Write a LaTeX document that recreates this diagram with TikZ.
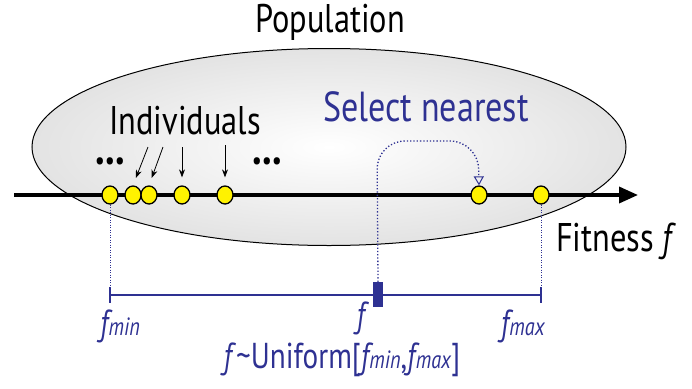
\documentclass[tikz,border=0pt]{standalone}
\usepackage{fontspec}
\setmainfont{PT Sans}[FakeStretch=0.81]
\usetikzlibrary{arrows.meta,shapes.geometric,positioning}
\definecolor{navy}{RGB}{46,49,146}
\tikzset{
  indiv/.style={ellipse,draw=black,line width=1.3pt,fill=yellow,minimum width=16pt,minimum height=18pt,inner sep=0pt},
  bluedot/.style={navy,dotted,line width=0.8pt},
  ptr/.style={-{Stealth[length=8pt,width=6pt]},line width=0.8pt,black,shorten >=8pt},
  lbl/.style={inner sep=0pt,font=\fontsize{40}{42}\selectfont},
  dots/.style={inner sep=0pt,anchor=base,text height=6pt,text depth=0pt,font=\fontsize{48}{50}\selectfont\bfseries},
  blbl/.style={inner sep=0pt,text=navy,font=\fontsize{36}{38}\selectfont}
}
\newcommand{\subtxt}[1]{\kern0.5pt{\fontsize{25}{27}\selectfont #1}}
\begin{document}
\begin{tikzpicture}[x=1pt,y=-1pt]
\useasboundingbox (0,0) rectangle (692,388);
% population ellipse
\node[ellipse,draw=black,line width=1pt,minimum width=594pt,minimum height=197pt,inner color=white,outer color=gray!22] (pop) at (329,147) {};
\node[lbl] (poptxt) at (330,22) {Population};
% axis
\coordinate (axL) at (14,195);
\coordinate (axR) at (638,195);
\draw[line width=3.5pt,-{Triangle[length=19pt,width=16pt]}] (axL) -- (axR);
\node[lbl,anchor=west] (fit) at (556,241) {Fitness \textit{f}};
% individuals
\node[indiv] (i1) at (110,195) {};
\node[indiv] (i2) at (133,195) {};
\node[indiv] (i3) at (149,195) {};
\node[indiv] (i4) at (182,195) {};
\node[indiv] (i5) at (225,195) {};
\node[indiv] (i6) at (479,195) {};
\node[indiv] (i7) at (541,195) {};
\node[lbl] (indtxt) at (185,121) {Individuals};
\node[dots] (dl) at (110,164) {...};
\node[dots] (dr) at (267,164) {...};
\coordinate (a1) at (148,147);
\coordinate (a2) at (163,147);
\coordinate (a3) at (182,147);
\coordinate (a4) at (225,145);
\draw[ptr] (a1) -- (i2.north);
\draw[ptr] (a2) -- (i3.north);
\draw[ptr] (a3) -- (i4.north);
\draw[ptr] (a4) -- (i5.north);
% interval
\coordinate (mn) at (110,295);
\coordinate (mx) at (541,295);
\draw[navy,line width=1.3pt] (mn) -- (mx);
\draw[navy,line width=1.3pt] (110,287) -- (110,303);
\draw[navy,line width=1.3pt] (541,287) -- (541,303);
\draw[bluedot,line width=0.5pt] (i1.south) -- (mn);
\draw[bluedot,line width=0.5pt] (i7.south) -- (mx);
\node[fill=navy,minimum width=10pt,minimum height=25pt,inner sep=0pt] (fm) at (378,294.5) {};
\node[blbl] (flbl) at (363,318) {\textit{f}};
\node[blbl] (fmin) at (120,326) {\textit{f\subtxt{min}}};
\node[blbl] (fmax) at (523,326) {\textit{f\subtxt{max}}};
\node[blbl] (unif) at (342,360) {\textit{f}\symbol{126}Uniform[\textit{f\subtxt{min}},\textit{f\subtxt{max}}]};
% select nearest
\node[blbl,font=\fontsize{42}{44}\selectfont] (sel) at (426,107) {Select nearest};
\draw[bluedot,line width=1.3pt,-{Triangle[open,length=9pt,width=10pt,line width=1pt]},rounded corners=28pt]
  (fm.north) -- (377,141) -- (478,141) -- (i6.north);
\end{tikzpicture}
\end{document}
